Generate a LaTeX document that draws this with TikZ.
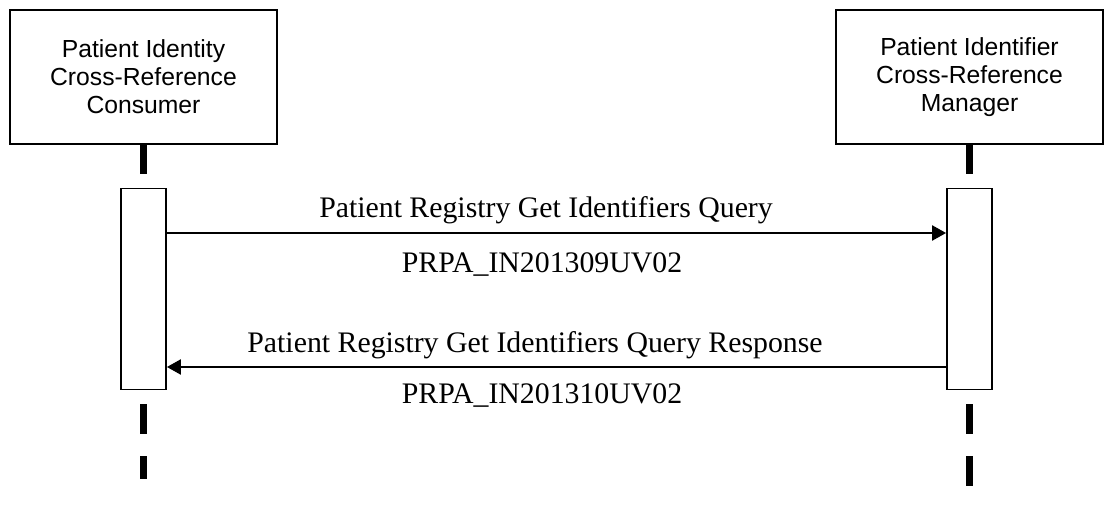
\documentclass[tikz,border=0pt]{standalone}
\usepackage{fontspec}
\setmainfont{Liberation Serif}
\setsansfont{Liberation Sans}
\usetikzlibrary{arrows.meta}
\tikzset{
  actor/.style={draw, line width=2pt, minimum width=267pt, minimum height=134pt,
    align=center, font=\sffamily\fontsize{24.7}{28}\selectfont, inner sep=0pt},
  activation/.style={draw, line width=1.8pt, minimum width=45pt, minimum height=201pt,
    inner sep=0pt, fill=white},
  lifeline/.style={line width=7pt},
  msg/.style={line width=2.2pt, -{Triangle[length=14pt,width=15pt]}},
  msglabel/.style={font=\fontsize{29.8}{33}\selectfont, inner sep=0pt}
}
\begin{document}
\begin{tikzpicture}[x=1pt, y=-1pt, line cap=butt, line join=miter]
            \useasboundingbox (0,0) rectangle (1108,505);
            % --- 2つの役割 ---
            \node[actor] (consumer) at (143.5,77) {Patient Identity\\Cross-Reference\\Consumer};
            \node[actor] (manager) at (969.5,77) {Patient Identifier\\Cross-Reference\\Manager};
            % --- 活性化の箱 ---
            \node[activation] (consAct) at (143.5,289) {};
            \node[activation] (mgrAct) at (969.5,289) {};
            % --- 縦の破線 ---
            \coordinate (consTop) at (143.5,174);
            \coordinate (mgrTop) at (969.5,174);
            \coordinate (consEnd) at (143.5,479);
            \coordinate (mgrEnd) at (969.5,486);
            \draw[lifeline] (consumer.south) -- (consTop);
            \draw[lifeline] (manager.south) -- (mgrTop);
            \draw[lifeline, dash pattern=on 30pt off 22pt] ([yshift=-14pt]consAct.south) -- (consEnd);
            \draw[lifeline, dash pattern=on 30pt off 22pt] ([yshift=-14pt]mgrAct.south) -- (mgrEnd);
            % --- 問い合わせ(左→右)
            \coordinate (query) at (0,233);
            \draw[msg] (consAct.east |- query) -- (mgrAct.west |- query);
            \node[msglabel, anchor=base] (queryName) at (546,218) {Patient Registry Get Identifiers Query};
            \node[msglabel, anchor=base] (queryId) at (542,272) {PRPA\_IN201309UV02};
            % --- 応答(右→左)
            \coordinate (reply) at (0,367);
            \draw[msg] (mgrAct.west |- reply) -- (consAct.east |- reply);
            \node[msglabel, anchor=base] (replyName) at (535,352) {Patient Registry Get Identifiers Query Response};
            \node[msglabel, anchor=base] (replyId) at (542,403) {PRPA\_IN201310UV02};
        \end{tikzpicture}
\end{document}
